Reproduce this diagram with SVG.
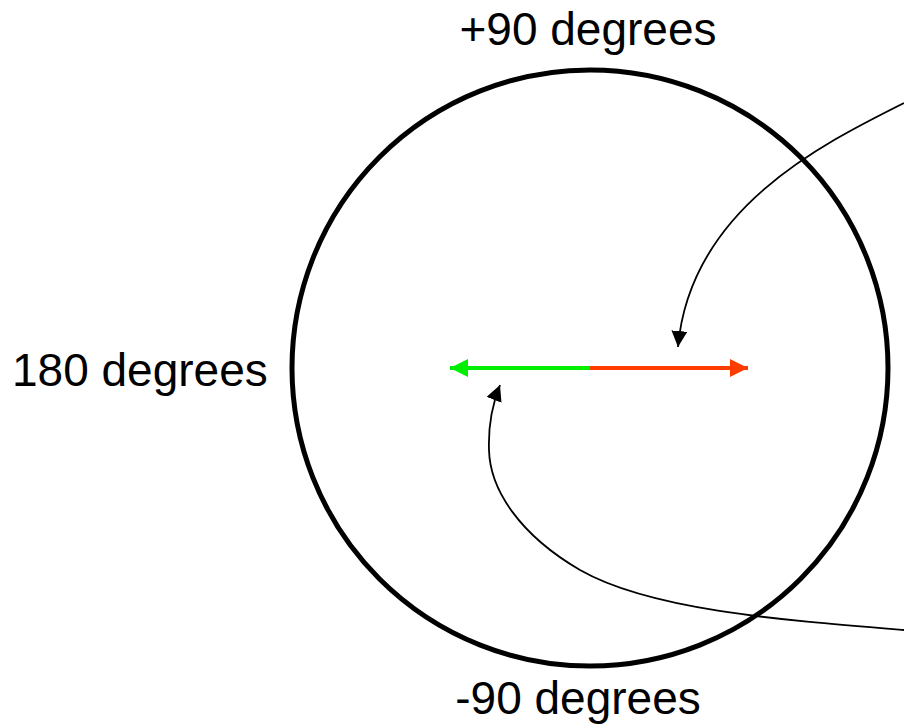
<svg xmlns="http://www.w3.org/2000/svg" width="904" height="724" viewBox="0 0 904 724">
<style>
text{font-family:"Liberation Sans",Arial,sans-serif;font-size:46px;fill:#000}
.c{fill:none;stroke:#000;stroke-width:1.8}
</style>
<defs>
<marker id="ab" viewBox="0 0 10 10" refX="10" refY="5" markerWidth="8" markerHeight="8" markerUnits="userSpaceOnUse" orient="auto"><path d="M0,0L10,5L0,10z" fill="#000"/></marker>
<marker id="ag" viewBox="0 0 10 10" refX="10" refY="5" markerWidth="4.5" markerHeight="4.5" orient="auto"><path d="M0,0L10,5L0,10z" fill="#00ee00"/></marker>
<marker id="ar" viewBox="0 0 10 10" refX="10" refY="5" markerWidth="4.5" markerHeight="4.5" orient="auto"><path d="M0,0L10,5L0,10z" fill="#ff3c00"/></marker>
<marker id="abk" viewBox="0 0 10 10" refX="10" refY="5" markerWidth="16" markerHeight="16" markerUnits="userSpaceOnUse" orient="auto"><path d="M0,0L10,5L0,10z" fill="#000"/></marker>
</defs>
<g id="circle"><circle cx="590" cy="368" r="298" fill="none" stroke="#000" stroke-width="5"/></g>
<g id="labels">
<text x="588" y="45" text-anchor="middle">+90 degrees</text>
<text x="12" y="386">180 degrees</text>
<text x="578" y="714" text-anchor="middle">-90 degrees</text>
</g>
<g id="vectors">
<line x1="590" y1="368" x2="450" y2="368" stroke="#00ee00" stroke-width="4" marker-end="url(#ag)"/>
<line x1="590" y1="368" x2="748" y2="368" stroke="#ff3c00" stroke-width="4" marker-end="url(#ar)"/>
</g>
<g id="connectors">
<path class="c" d="M904,103 C820,145 690,210 678,347" marker-end="url(#abk)"/>
<path class="c" d="M904,630 C780,620 650,610 580,570 C520,535 490,490 489,450 C488,420 494,400 500,385" marker-end="url(#abk)"/>
</g>
</svg>
